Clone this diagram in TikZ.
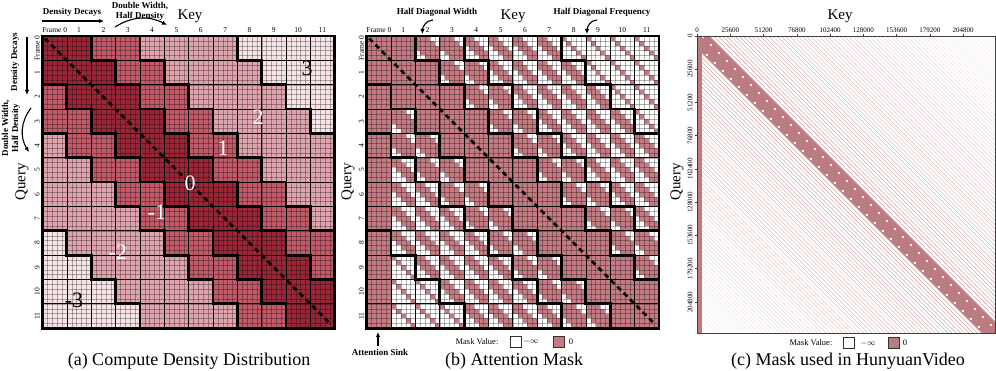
\documentclass[tikz,border=0pt]{standalone}
\usepackage{fontspec}
\setmainfont{Liberation Serif}
\usetikzlibrary{arrows.meta, positioning, calc}

\definecolor{dens0}{RGB}{152,38,54}
\definecolor{dens1}{RGB}{193,90,104}
\definecolor{dens2}{RGB}{223,164,172}
\definecolor{dens3}{RGB}{246,228,230}
\definecolor{mpink}{RGB}{196,122,130}
\definecolor{hpink}{RGB}{186,124,128}

% level of a frame pair: 0,1,2,3
\newcommand{\framelevel}[3]{\pgfmathtruncatemacro#1{(abs((#2)-(#3))>1)+(abs((#2)-(#3))>3)+(abs((#2)-(#3))>7)}}

% thin sub-grid and frame grid
\newcommand{\drawgrids}{%
  \foreach \t in {0,...,60}{
    \draw[subgrid] (\t/5,0) -- (\t/5,12);
    \draw[subgrid] (0,\t/5) -- (12,\t/5);
  }
  \foreach \t in {0,...,12}{
    \draw[blockgrid] (\t,0) -- (\t,12);
    \draw[blockgrid] (0,\t) -- (12,\t);
  }}

% thick staircase lines between density levels
\newcommand{\drawfences}{%
  \foreach \i in {0,...,11}{\foreach \j in {0,...,11}{
    \framelevel{\lv}{\i}{\j}
    \framelevel{\lvr}{\i}{\j+1}
    \framelevel{\lvd}{\i+1}{\j}
    \ifnum\j<11 \ifnum\lv=\lvr\else \draw[fence] (\j+1,\i) -- (\j+1,\i+1);\fi\fi
    \ifnum\i<11 \ifnum\lv=\lvd\else \draw[fence] (\j,\i+1) -- (\j+1,\i+1);\fi\fi
  }}}

\begin{document}
\begin{tikzpicture}[
    x=1pt, y=-1pt,
    ticklab/.style={font=\fontsize{7.5}{8}\selectfont, inner sep=0pt},
    annot/.style={font=\fontsize{9}{10}\selectfont\bfseries, inner sep=0pt, align=center},
    axlab/.style={font=\fontsize{15}{16}\selectfont, inner sep=0pt},
    caplab/.style={font=\fontsize{18}{19}\selectfont, inner sep=0pt},
    bignum/.style={font=\fontsize{22}{24}\selectfont, inner sep=0pt},
    leglab/.style={font=\fontsize{8.5}{9}\selectfont, inner sep=0pt},
    legbox/.style={draw=black!80, line width=0.9pt, minimum size=11pt, inner sep=0pt},
    subgrid/.style={draw=black, draw opacity=0.3, line width=0.3pt},
    blockgrid/.style={draw=black, line width=0.7pt},
    fence/.style={line width=2.8pt, line cap=rect},
    border/.style={line width=2.8pt},
    diagline/.style={line width=2.6pt, dash pattern=on 5pt off 4pt},
    pointer/.style={-{Latex[length=5pt,width=4.5pt]}, line width=1.1pt}
]
\useasboundingbox (0,0) rectangle (996,371);

%% (a) compute density
\begin{scope}[shift={(42.5,36)}, x=24.35pt, y=-24.35pt]
  \foreach \i in {0,...,11}{\foreach \j in {0,...,11}{
    \framelevel{\lv}{\i}{\j}
    \fill[dens\lv] (\j,\i) rectangle ++(1,1);
  }}
  \drawgrids
  \drawfences
  \draw[border] (0,0) rectangle (12,12);
  \draw[diagline] (0.1,0.1) -- (11.85,11.85);
  \node[ticklab] (acol0) at (0.5,-0.25) {Frame 0};
  \foreach \j in {1,...,11} \node[ticklab] (acol\j) at (\j+0.5,-0.25) {\j};
  \node[ticklab, rotate=90] (arow0) at (-0.22,0.5) {Frame 0};
  \foreach \i in {1,...,11} \node[ticklab, rotate=90] (arow\i) at (-0.22,\i+0.5) {\i};
\end{scope}

\node[bignum] (nthree) at (307,68) {3};
\node[bignum, white] (ntwo) at (258,117) {2};
\node[bignum, white] (none) at (223,148) {1};
\node[bignum, white] (nzero) at (190,183) {0};
\node[bignum, white] (nmone) at (157,212) {-1};
\node[bignum, white] (nmtwo) at (118,252) {-2};
\node[bignum] (nmthree) at (74,300) {-3};

\node[annot] (decayh) at (72,12) {Density Decays};
\coordinate (decayhs) at (42,21);
\coordinate (decayhe) at (104,21);
\draw[pointer] (decayhs) -- (decayhe);
\node[annot] (doubleh) at (140,11) {Double Width,\\Half Density};
\coordinate (doublehs) at (115,27);
\coordinate (doublehe) at (167,25);
\draw[pointer] (doublehs) to[bend left=30] (doublehe);
\node[axlab] (akey) at (190,16) {Key};

\node[annot, rotate=90] (decayv) at (15,62) {Density Decays};
\coordinate (decayvs) at (27,37);
\coordinate (decayve) at (27,95);
\draw[pointer] (decayvs) -- (decayve);
\node[annot, rotate=90] (doublev) at (11,128) {Double Width,\\Half Density};
\coordinate (doublevs) at (31,108);
\coordinate (doubleve) at (29,152);
\draw[pointer] (doublevs) to[bend right=35] (doubleve);
\node[axlab, rotate=90] (aquery) at (22,182) {Query};
\node[caplab] (acap) at (189,361) {(a) Compute Density Distribution};

%% (b) attention mask
\begin{scope}[shift={(366.7,36)}, x=24.35pt, y=-24.35pt]
  \foreach \i in {0,...,11}{\foreach \j in {0,...,11}{
    \framelevel{\lv}{\i}{\j}
    \ifnum\j=0 \fill[mpink] (\j,\i) rectangle ++(1,1);
    \else\ifnum\lv=0 \fill[mpink] (\j,\i) rectangle ++(1,1);
    \else
      \foreach \r in {0,...,4}{\foreach \c in {0,...,4}{
        \pgfmathtruncatemacro\on{(\lv==1)*(abs(\c-\r)<=2)+(\lv==2)*(abs(\c-\r)<=1)+(\lv==3)*(\c==\r)}
        \ifnum\on>0 \fill[mpink] (\j+\c/5,\i+\r/5) rectangle ++(0.2,0.2);\fi
      }}
    \fi\fi
  }}
  \drawgrids
  \drawfences
  \draw[border] (0,0) rectangle (12,12);
  \draw[diagline] (0.1,0.1) -- (11.85,11.85);
  \node[ticklab] (bcol0) at (0.5,-0.25) {Frame 0};
  \foreach \j in {1,...,11} \node[ticklab] (bcol\j) at (\j+0.5,-0.25) {\j};
  \node[ticklab, rotate=90] (brow0) at (-0.22,0.5) {Frame 0};
  \foreach \i in {1,...,11} \node[ticklab, rotate=90] (brow\i) at (-0.22,\i+0.5) {\i};
\end{scope}

\node[annot] (halfw) at (437,12) {Half Diagonal Width};
\coordinate (halfws) at (433,20);
\coordinate (halfwe) at (422.5,34);
\draw[pointer] (halfws) to[out=180, in=90] (halfwe);
\node[axlab] (bkey) at (513,16) {Key};
\node[annot] (halff) at (602,12) {Half Diagonal Frequency};
\coordinate (halffs) at (597,20);
\coordinate (halffe) at (587,34);
\draw[pointer] (halffs) to[out=180, in=90] (halffe);
\node[axlab, rotate=90] (bquery) at (348,182) {Query};
\node[annot] (sink) at (380,352) {Attention Sink};
\coordinate (sinks) at (378,346);
\coordinate (sinke) at (378,332);
\draw[pointer] (sinks) -- (sinke);
\node[leglab] (bmask) at (477,342) {Mask Value:};
\node[legbox, fill=white] (bboxw) at (516,342) {};
\node[leglab] (binf) at (531,342) {$-\infty$};
\node[legbox, fill=mpink] (bboxp) at (559,342) {};
\node[leglab] (bzero) at (571,342) {0};
\node[caplab] (bcap) at (514,361) {(b) Attention Mask};

%% (c) HunyuanVideo mask
\begin{scope}[shift={(697,36)}]
  \begin{scope}
    \clip (0,0) rectangle (298,297);
    \foreach \k in {-71,...,71}{
      \pgfmathsetmacro\op{max(0.15,0.75-0.0095*abs(\k))}
      \draw[hpink, line width=0.5pt, opacity=\op] (\k*4.2,0) -- ++(420,420);
    }
    \fill[hpink] (-12,0) -- (12,0) -- (309,297) -- (285,297) -- cycle;
    \foreach \t in {0,8,...,296}{
      \fill[white] (\t+5,\t) rectangle ++(1.6,1.6);
      \fill[white] (\t-7,\t+2) rectangle ++(1.6,1.6);
    }
    \fill[hpink] (0,0) rectangle (5,297);
  \end{scope}
  \draw[black!75, line width=0.8pt] (0,0) rectangle (298,297);
  \foreach \v [count=\n from 0] in {0,25600,51200,76800,102400,128000,153600,179200,204800}{
    \draw[black!75, line width=0.5pt] (\n*33.25,0) -- ++(0,-2);
    \node[ticklab, font=\fontsize{7}{8}\selectfont] (ctop\n) at (\n*33.25,-6) {\v};
    \draw[black!75, line width=0.5pt] (0,\n*33.25) -- ++(-2,0);
    \node[ticklab, font=\fontsize{7}{8}\selectfont, rotate=90] (cleft\n) at (-7,\n*33.25) {\v};
  }
\end{scope}
\node[axlab] (ckey) at (840,16) {Key};
\node[axlab, rotate=90] (cquery) at (677,182) {Query};
\node[leglab] (cmask) at (811,343) {Mask Value:};
\node[legbox, fill=white] (cboxw) at (849,343) {};
\node[leglab] (cinf) at (868,343) {$-\infty$};
\node[legbox, fill=hpink] (cboxp) at (894,343) {};
\node[leglab] (czero) at (905,343) {0};
\node[caplab] (ccap) at (848,361) {(c) Mask used in HunyuanVideo};
\end{tikzpicture}
\end{document}
